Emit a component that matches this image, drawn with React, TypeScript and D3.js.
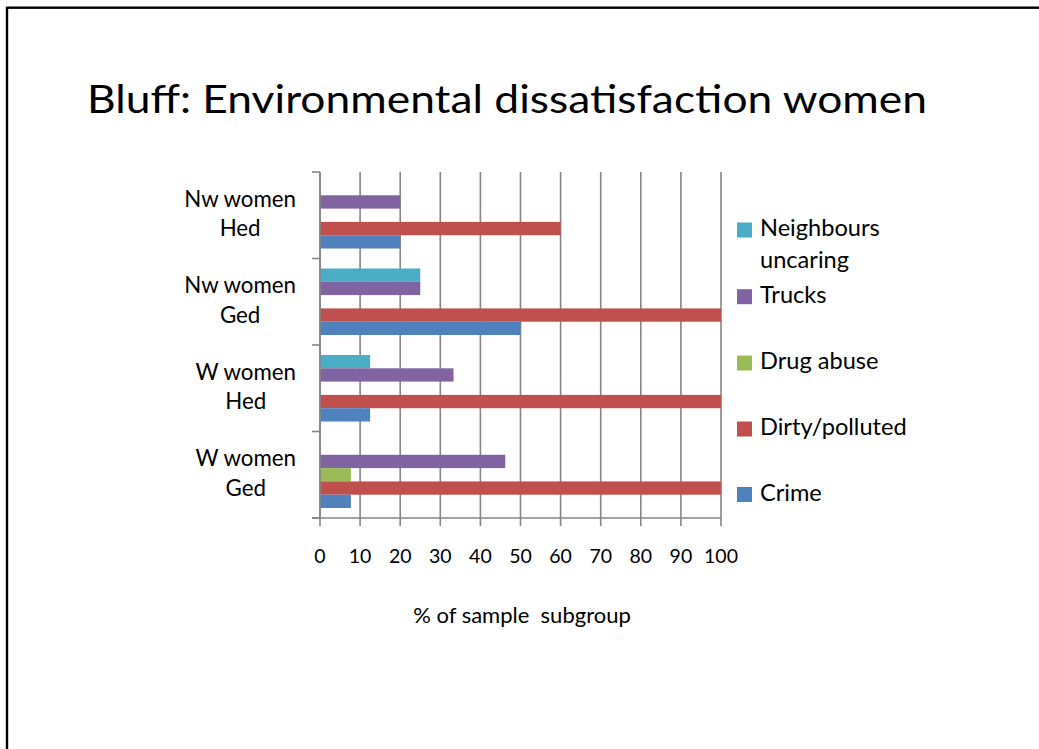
import React, { useEffect, useRef } from "react";
import * as d3 from "d3";

const title = "Bluff: Environmental dissatisfaction women";
const categories = ["Nw women Hed", "Nw women Ged", "W women Hed", "W women Ged"];
const seriesNames = ["Neighbours uncaring", "Trucks", "Drug abuse", "Dirty/polluted", "Crime"];
const neighbours = [0, 25, 12.5, 0];
const trucks = [20, 25, 33.3, 46.2];
const drugAbuse = [0, 0, 0, 7.7];
const dirty = [60, 100, 100, 100];
const crime = [20, 50, 12.5, 7.7];
const seriesColors = ["#4BACC6", "#8064A2", "#9BBB59", "#C0504D", "#4F81BD"];
const xTicks = [0, 10, 20, 30, 40, 50, 60, 70, 80, 90, 100];
const xTitle = "% of sample  subgroup";
const legendOrder = ["Neighbours uncaring", "Trucks", "Drug abuse", "Dirty/polluted", "Crime"];

const FONT = "Lato, 'Open Sans', sans-serif";

export default function App() {
  const ref = useRef<SVGSVGElement | null>(null);

  useEffect(() => {
    const svg = d3.select(ref.current);
    svg.selectAll("*").remove();
    const values = [neighbours, trucks, drugAbuse, dirty, crime];

    // frame
    svg.append("rect").attr("x", 7).attr("y", 7.7).attr("width", 1100).attr("height", 800)
      .attr("fill", "none").attr("stroke", "#000").attr("stroke-width", 2.4);

    svg.append("text").attr("x", 87).attr("y", 113).text(title)
      .attr("font-family", FONT).attr("font-size", 39).attr("fill", "#000")
      .attr("textLength", 840).attr("lengthAdjust", "spacingAndGlyphs");

    const left = 320, right = 721, top = 172, bottom = 518;
    const x = d3.scaleLinear().domain([0, 100]).range([left, right]);
    const y = d3.scaleBand<string>().domain(categories).range([top, bottom]).padding(0);
    const yInner = d3.scaleBand<string>().domain(seriesNames).range([0, y.bandwidth()])
      .paddingInner(0).paddingOuter(0.75);

    const g = svg.append("g");
    // gridlines with tick extension below axis
    g.selectAll("line.grid").data(xTicks).join("line")
      .attr("x1", d => x(d)).attr("x2", d => x(d))
      .attr("y1", top).attr("y2", bottom + 8)
      .attr("stroke", "#868686").attr("stroke-width", 1.6);
    // x axis line
    g.append("line").attr("x1", left - 8).attr("x2", right).attr("y1", bottom).attr("y2", bottom)
      .attr("stroke", "#868686").attr("stroke-width", 1.6);
    // y axis ticks
    const yTickPos = [top, ...categories.map(c => (y(c) as number) + y.bandwidth())];
    g.selectAll("line.yt").data(yTickPos).join("line")
      .attr("x1", left - 8).attr("x2", left).attr("y1", d => d).attr("y2", d => d)
      .attr("stroke", "#868686").attr("stroke-width", 1.6);

    // bars
    seriesNames.forEach((s, si) => {
      g.selectAll(null).data(values[si].map((v, i) => ({ v, c: categories[i] }))).join("rect")
        .attr("x", x(0))
        .attr("y", d => (y(d.c) as number) + (yInner(s) as number))
        .attr("width", d => x(d.v) - x(0))
        .attr("height", yInner.bandwidth())
        .attr("fill", seriesColors[si]);
    });

    // y axis line on top
    g.append("line").attr("x1", left).attr("x2", left).attr("y1", top).attr("y2", bottom)
      .attr("stroke", "#868686").attr("stroke-width", 1.6);

    // x tick labels
    g.selectAll("text.xt").data(xTicks).join("text")
      .attr("x", d => x(d)).attr("y", 563).attr("text-anchor", "middle")
      .attr("font-family", FONT).attr("font-size", 19.5).attr("fill", "#000")
      .text(d => String(d));

    g.append("text").attr("x", 522).attr("y", 623).attr("text-anchor", "middle")
      .attr("font-family", FONT).attr("font-size", 22).attr("fill", "#000")
      .style("white-space", "pre")
      .text(xTitle);

    // category labels (wrapped, block right-aligned, lines centered)
    categories.forEach(c => {
      const idx = c.lastIndexOf(" ");
      const lines = [c.slice(0, idx), c.slice(idx + 1)];
      const cy = (y(c) as number) + y.bandwidth() / 2;
      const texts = lines.map((ln, li) => g.append("text")
        .attr("y", cy - 8.5 + li * 29.3)
        .attr("text-anchor", "middle")
        .attr("font-family", FONT).attr("font-size", 22.3).attr("fill", "#000")
        .text(ln));
      const widths = texts.map(t => (t.node() as SVGTextElement).getComputedTextLength());
      const maxW = Math.max(...widths);
      const cx = 296 - maxW / 2;
      texts.forEach(t => t.attr("x", cx));
    });

    // legend
    const legBase = [236, 302.7, 369, 435, 500.5];
    legendOrder.forEach((name, i) => {
      const si = seriesNames.indexOf(name);
      const b = legBase[i];
      g.append("rect").attr("x", 737).attr("y", b - 13.5).attr("width", 15).attr("height", 15)
        .attr("fill", seriesColors[si]);
      const words = name === "Neighbours uncaring" ? ["Neighbours", "uncaring"] : [name];
      words.forEach((w, wi) => {
        g.append("text").attr("x", 760).attr("y", b + wi * 32)
          .attr("font-family", FONT).attr("font-size", 23.6).attr("fill", "#000")
          .text(w);
      });
    });
  }, []);

  return (
    <svg ref={ref} width={1039} height={749}
      style={{ position: "absolute", left: 0, top: 0, background: "#fff" }} />
  );
}
